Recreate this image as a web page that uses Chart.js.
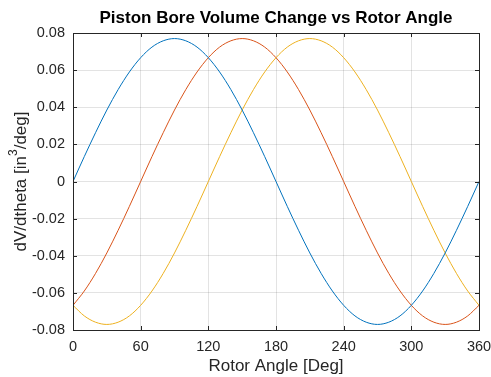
<!DOCTYPE html>
<html>
<head>
<meta charset="utf-8">
<script src="https://cdn.jsdelivr.net/npm/chart.js@4"></script>
<style>
  html, body { margin: 0; padding: 0; background: #fff; }
  canvas { display: block; }
</style>
</head>
<body>
<canvas id="grafico" width="491" height="377"></canvas>
<script>
// angulos del rotor (grados)
const angulos = [0,10,20,30,40,50,60,70,80,90,100,110,120,130,140,150,160,170,180,
  190,200,210,220,230,240,250,260,270,280,290,300,310,320,330,340,350,360];

// dV/dtheta de cada piston
const piston1 = [0, 0.0134, 0.0263, 0.0385, 0.0495, 0.0590, 0.0667, 0.0724, 0.0758, 0.0770,
  0.0758, 0.0724, 0.0667, 0.0590, 0.0495, 0.0385, 0.0263, 0.0134, 0,
  -0.0134, -0.0263, -0.0385, -0.0495, -0.0590, -0.0667, -0.0724, -0.0758, -0.0770,
  -0.0758, -0.0724, -0.0667, -0.0590, -0.0495, -0.0385, -0.0263, -0.0134, 0];
const piston2 = [-0.0667, -0.0590, -0.0495, -0.0385, -0.0263, -0.0134, 0, 0.0134, 0.0263, 0.0385,
  0.0495, 0.0590, 0.0667, 0.0724, 0.0758, 0.0770, 0.0758, 0.0724, 0.0667,
  0.0590, 0.0495, 0.0385, 0.0263, 0.0134, 0, -0.0134, -0.0263, -0.0385,
  -0.0495, -0.0590, -0.0667, -0.0724, -0.0758, -0.0770, -0.0758, -0.0724, -0.0667];
const piston3 = [-0.0667, -0.0724, -0.0758, -0.0770, -0.0758, -0.0724, -0.0667, -0.0590, -0.0495, -0.0385,
  -0.0263, -0.0134, 0, 0.0134, 0.0263, 0.0385, 0.0495, 0.0590, 0.0667,
  0.0724, 0.0758, 0.0770, 0.0758, 0.0724, 0.0667, 0.0590, 0.0495, 0.0385,
  0.0263, 0.0134, 0, -0.0134, -0.0263, -0.0385, -0.0495, -0.0590, -0.0667];

const xTicks = [0, 60, 120, 180, 240, 300, 360];
const yTicks = [-0.08, -0.06, -0.04, -0.02, 0, 0.02, 0.04, 0.06, 0.08];

const titulo = 'Piston Bore Volume Change vs Rotor Angle';
const FUENTE = '"Liberation Sans", Arial, Helvetica, sans-serif';
const EJE = '#262626';

const serie = (datos, color) => ({
    data: angulos.map((a, i) => ({ x: a, y: datos[i] })),
    borderColor: color,
    borderWidth: 1,
    pointRadius: 0,
    fill: false,
    cubicInterpolationMode: 'monotone'
});

// caja de ejes, marcas hacia adentro, titulos estilo MATLAB
const cajaPlugin = {
    id: 'caja',
    afterDraw(chart) {
        const { ctx, chartArea: a, scales: { x, y } } = chart;
        ctx.save();
        ctx.strokeStyle = EJE;
        ctx.lineWidth = 1;
        ctx.beginPath();
        xTicks.forEach(t => {
            const px = Math.round(x.getPixelForValue(t)) + 0.5;
            ctx.moveTo(px, a.bottom); ctx.lineTo(px, a.bottom - 4);
            ctx.moveTo(px, a.top); ctx.lineTo(px, a.top + 4);
        });
        yTicks.forEach(t => {
            const py = Math.round(y.getPixelForValue(t)) + 0.5;
            ctx.moveTo(a.left, py); ctx.lineTo(a.left + 4, py);
            ctx.moveTo(a.right, py); ctx.lineTo(a.right - 4, py);
        });
        ctx.stroke();
        ctx.strokeRect(Math.round(a.left) + 0.5, Math.round(a.top) + 0.5,
            Math.round(a.right - a.left), Math.round(a.bottom - a.top));

        ctx.fillStyle = '#000';
        ctx.font = 'bold 17px ' + FUENTE;
        ctx.textAlign = 'center';
        ctx.textBaseline = 'middle';
        ctx.fillText(titulo, (a.left + a.right) / 2, 18);

        // etiqueta del eje y con superindice
        ctx.fillStyle = EJE;
        ctx.translate(21, (a.top + a.bottom) / 2);
        ctx.rotate(-Math.PI / 2);
        const p1 = 'dV/dtheta [in', p2 = '3', p3 = '/deg]';
        ctx.font = '17px ' + FUENTE;
        const w1 = ctx.measureText(p1).width, w3 = ctx.measureText(p3).width;
        ctx.font = '12px ' + FUENTE;
        const w2 = ctx.measureText(p2).width;
        let cx = -(w1 + w2 + w3) / 2;
        ctx.textAlign = 'left';
        ctx.font = '17px ' + FUENTE;
        ctx.fillText(p1, cx, 0);
        cx += w1;
        ctx.font = '12px ' + FUENTE;
        ctx.fillText(p2, cx, -7);
        cx += w2;
        ctx.font = '17px ' + FUENTE;
        ctx.fillText(p3, cx, 0);
        ctx.restore();
    }
};

new Chart(document.getElementById('grafico'), {
    type: 'line',
    data: {
        datasets: [
            serie(piston1, '#0072BD'),
            serie(piston2, '#D95319'),
            serie(piston3, '#EDB120')
        ]
    },
    options: {
        responsive: false,
        animation: false,
        layout: { padding: { top: 33, right: 12, left: 0, bottom: 0 } },
        plugins: { legend: { display: false }, title: { display: false }, tooltip: { enabled: false } },
        scales: {
            x: {
                type: 'linear', min: 0, max: 360,
                afterBuildTicks: s => { s.ticks = xTicks.map(v => ({ value: v })); },
                afterFit: s => { s.height = 47; s.paddingLeft = 0; s.paddingRight = 0; },
                grid: { color: 'rgba(38,38,38,0.13)', drawTicks: false },
                border: { display: false },
                ticks: { color: EJE, font: { family: FUENTE, size: 14.5 }, padding: 8, maxRotation: 0 },
                title: { display: true, text: 'Rotor Angle [Deg]', color: EJE, font: { family: FUENTE, size: 17 }, padding: { top: 3, bottom: 0 } }
            },
            y: {
                type: 'linear', min: -0.08, max: 0.08,
                afterBuildTicks: s => { s.ticks = yTicks.map(v => ({ value: v })); },
                afterFit: s => { s.width = 73; s.paddingTop = 0; s.paddingBottom = 0; },
                grid: { color: 'rgba(38,38,38,0.13)', drawTicks: false },
                border: { display: false },
                ticks: {
                    color: EJE, font: { family: FUENTE, size: 14.5 }, padding: 8,
                    callback: v => Math.abs(v) < 1e-9 ? '0' : v.toFixed(2)
                },
                title: { display: false }
            }
        }
    },
    plugins: [cajaPlugin]
});
</script>
</body>
</html>
